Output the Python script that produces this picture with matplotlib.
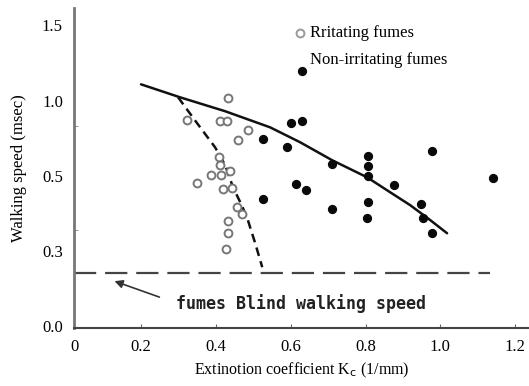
import numpy as np
import matplotlib
matplotlib.use("Agg")
import matplotlib.pyplot as plt

# Walking speed vs extinction coefficient (Jin's experiment)

# irritating fumes (open circles)
irr_x = [0.433, 0.323, 0.411, 0.430, 0.486, 0.459, 0.409, 0.411, 0.438, 0.387,
         0.414, 0.350, 0.419, 0.443, 0.457, 0.470, 0.433, 0.433, 0.427]
irr_y = [1.015, 0.869, 0.862, 0.862, 0.802, 0.736, 0.623, 0.570, 0.530, 0.503,
         0.503, 0.480, 0.464, 0.467, 0.416, 0.398, 0.379, 0.347, 0.305]

# non-irritating fumes (filled dots)
non_x = [0.601, 0.630, 0.590, 0.711, 0.807, 0.807, 0.807, 0.614, 0.641, 0.876,
         0.711, 0.807, 0.804, 0.978, 1.141, 0.949, 0.954, 0.978, 0.526, 0.526]
non_y = [0.849, 0.862, 0.689, 0.576, 0.630, 0.563, 0.499, 0.477, 0.461, 0.475,
         0.411, 0.430, 0.387, 0.663, 0.493, 0.424, 0.387, 0.347, 0.743, 0.438]

# fitted curves
fit_non_x = [0.200, 0.304, 0.425, 0.545, 0.625, 0.711, 0.804, 0.866, 0.919, 0.973, 1.018]
fit_non_y = [1.108, 1.022, 0.929, 0.822, 0.723, 0.603, 0.496, 0.456, 0.422, 0.382, 0.347]

fit_irr_x = [0.299, 0.350, 0.398, 0.425, 0.446, 0.465, 0.483, 0.505, 0.524]
fit_irr_y = [1.022, 0.849, 0.689, 0.570, 0.469, 0.430, 0.390, 0.321, 0.235]

blind_speed = 0.211
blind_x_end = 1.133

y_ticks = [0.0, 0.3, 0.5, 1.0, 1.5]
x_ticks = [0.2, 0.4, 0.6, 0.8, 1.0, 1.2]

# the y axis is drawn with equal spacing between uneven tick values
tick_pos = [-1, 0, 1, 2, 3, 4, 5]
tick_val = [-0.3, 0.0, 0.3, 0.5, 1.0, 1.5, 2.0]


def forward(v):
    return np.interp(v, tick_val, tick_pos)


def inverse(p):
    return np.interp(p, tick_pos, tick_val)


serif = "Liberation Serif"
plt.rcParams["font.family"] = serif

fig = plt.figure(figsize=(5.29, 3.86), dpi=100)
ax = fig.add_axes([0.140, 0.150, 0.860, 0.829])
ax.set_yscale("function", functions=(forward, inverse))

x0 = 0.021
ax.set_xlim(x0, 1.237)
ax.set_ylim(-0.008, 1.615)

ax.plot(fit_non_x, fit_non_y, color="#111111", lw=1.8, solid_capstyle="round")
ax.plot(fit_irr_x, fit_irr_y, color="#111111", lw=1.8, dashes=(3.5, 2.2))
ax.plot([x0, blind_x_end], [blind_speed, blind_speed], color="#444444", lw=1.6,
        dashes=(10, 4))

ax.scatter(irr_x, irr_y, s=32, facecolors="white", edgecolors="#777777",
           linewidths=1.4, zorder=3)
ax.scatter(non_x, non_y, s=32, color="#0a0a0a", zorder=3)

# legend drawn by hand like the original
ax.scatter([0.625], [1.447], s=32, facecolors="white", edgecolors="#999999",
           linewidths=1.4, zorder=3)
ax.scatter([0.630], [1.194], s=32, color="#0a0a0a", zorder=3)
ax.text(0.652, 1.447, "Rritating fumes", fontsize=12, va="center", ha="left")
ax.text(0.652, 1.267, "Non-irritating fumes", fontsize=12, va="center", ha="left")

ax.annotate("", xy=(0.122, 0.183), xytext=(0.256, 0.112),
            arrowprops=dict(arrowstyle="-|>", color="#333333", lw=1.2,
                            mutation_scale=12))
ax.text(0.294, 0.092, "fumes Blind walking speed", fontsize=12,
        family="DejaVu Sans Mono", weight="bold", color="#222222",
        va="center", ha="left")

ax.set_xticks([x0] + x_ticks)
ax.set_xticklabels(["0"] + ["%.1f" % t for t in x_ticks])
ax.set_yticks(y_ticks)
ax.set_yticklabels(["%.1f" % t for t in y_ticks])
ax.tick_params(axis="y", length=0, labelsize=12, pad=8)
ax.tick_params(axis="x", direction="in", length=3, labelsize=12, pad=8,
               color="#666666")
ax.set_yticks(inverse(np.array([4.0, 2.66, 1.28])), minor=True)
ax.tick_params(axis="y", which="minor", direction="in", length=3, color="#888888")

for s in ["top", "right"]:
    ax.spines[s].set_visible(False)
ax.spines["left"].set_color("#777777")
ax.spines["left"].set_linewidth(2)
ax.spines["bottom"].set_color("#444444")
ax.spines["bottom"].set_linewidth(1.5)

ax.set_xlabel("Extinotion coefficient K$_\\mathrm{c}$ (1/mm)", fontsize=11.5,
              labelpad=4)
ax.set_ylabel("Walking speed (msec)", fontsize=12, labelpad=11)

fig.savefig("out.png", dpi=100)
